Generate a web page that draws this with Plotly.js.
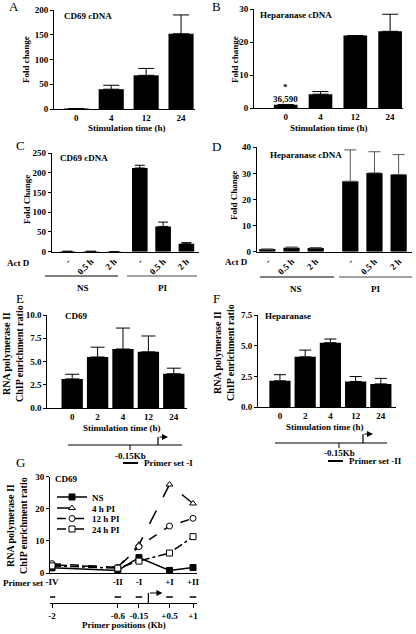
<!DOCTYPE html>
<html><head><meta charset="utf-8">
<script src="https://cdn.plot.ly/plotly-3.0.1.min.js"></script>
<style>html,body{margin:0;padding:0;background:#fff}#chart{width:416px;height:634px}</style>
</head><body><div id="chart"></div>
<script>
// ---------- DATA ----------
const timeCatsAB = ["0", "4", "12", "24"];
const cd69Fold = [1, 40, 68, 152];
const cd69FoldSem = [0, 8, 14, 38];
const hepFold = [1, 4.2, 22, 23.3];
const hepFoldSem = [0, 0.8, 0, 5.2];
const hepFold0Label = "36,590";

const groupsCD = ["NS", "PI"];
const actDConds = ["-", "0.5 h", "2 h"];
const cd69ActD = [1, 1, 0.5, 212, 64, 20];
const cd69ActDSem = [0, 0, 0, 7, 11, 3];
const hepActD = [1.0, 1.5, 1.4, 27, 30.2, 29.6];
const hepActDSem = [0, 0.3, 0.2, 12, 8.1, 7.6];

const timeCatsEF = ["0", "2", "4", "12", "24"];
const cd69Pol = [3.15, 5.5, 6.35, 6.05, 3.7];
const cd69PolSem = [0.5, 1.05, 2.25, 1.7, 0.6];
const hepPol = [2.15, 4.1, 5.25, 2.1, 1.9];
const hepPolSem = [0.5, 0.55, 0.3, 0.4, 0.45];

const primerSets = ["-IV", "-II", "-I", "+I", "+II"];
const primerKb = [-2, -0.6, -0.15, 0.5, 1];
const primerKbLabels = ["-2", "-0.6", "-0.15", "+0.5", "+1"];
const seriesG = ["NS", "4 h PI", "12 h PI", "24 h PI"];
const gNS = [1.6, 0.8, 4.8, 0.8, 1.7];
const g4h = [2.5, 1.8, 8.8, 27.5, 21.6];
const g12h = [2.9, 1.7, 8.2, 14.6, 17.0];
const g24h = [2.2, 1.5, 3.7, 6.2, 11.3];

// ---------- HELPERS ----------
const W = 416, H = 634;
const px = x => x / W;
const py = y => 1 - y / H;
const FAM = "Liberation Serif, Times New Roman, serif";
const bold = (s) => ({family: FAM, size: s, color: "#000", weight: "bold"});
const zeros = a => a.map(() => 0);

function groupedPositions(gap) {
  const pos = [];
  groupsCD.forEach((g, gi) => actDConds.forEach((c, ci) => pos.push(gi * (actDConds.length + gap) + ci)));
  return pos;
}
const condLabels = groupsCD.flatMap(() => actDConds);

function yAx(top, bot, range, dtick, anchor, fmt) {
  return {domain: [py(bot), py(top)], range: range, dtick: dtick, tick0: 0, tickformat: fmt || "",
    ticks: "outside", ticklen: 3, tickwidth: 1, tickcolor: "#000", showline: true, linewidth: 1,
    linecolor: "#000", showgrid: false, zeroline: false, anchor: anchor, tickfont: bold(9), fixedrange: true};
}
function xAx(left, right, range, anchor, extra) {
  return Object.assign({domain: [px(left), px(right)], range: range, showline: true, linewidth: 1,
    linecolor: "#000", showgrid: false, zeroline: false, ticks: "", anchor: anchor, tickfont: bold(9),
    fixedrange: true}, extra || {});
}
function barTrace(x, y, sem, xa, ya, width, cap, ecol) {
  return {type: "bar", x: x, y: y, xaxis: xa, yaxis: ya, width: width, showlegend: false,
    marker: {color: "#000", line: {width: 0}},
    error_y: {type: "data", symmetric: false, array: sem, arrayminus: zeros(sem),
      color: ecol || "#000", thickness: 1, width: cap}};
}

const posC = groupedPositions(0.1);
const posD = groupedPositions(0.43);

// ---------- TRACES ----------
const traces = [
  barTrace(timeCatsAB, cd69Fold, cd69FoldSem, "x", "y", 0.72, 8),
  barTrace(timeCatsAB, hepFold, hepFoldSem, "x2", "y2", 0.68, 8),
  barTrace(posC, cd69ActD, cd69ActDSem, "x3", "y3", 0.67, 5),
  barTrace(posD, hepActD, hepActDSem, "x4", "y4", 0.67, 6, "#555"),
  barTrace(timeCatsEF, cd69Pol, cd69PolSem, "x5", "y5", 0.84, 7),
  barTrace(timeCatsEF, hepPol, hepPolSem, "x6", "y6", 0.84, 6)
];
const gStyles = [
  {y: gNS, dash: "solid", symbol: "square", fill: "#000"},
  {y: g4h, dash: "longdash", symbol: "triangle-up", fill: "#fff"},
  {y: g12h, dash: "dash", symbol: "circle", fill: "#fff"},
  {y: g24h, dash: "dashdot", symbol: "square", fill: "#fff"}
];
const legendIds = ["legend", "legend2", "legend3", "legend4"];
gStyles.forEach((s, i) => traces.push({
  type: "scatter", mode: "lines+markers", name: seriesG[i], x: primerKb, y: s.y, legend: legendIds[i],
  xaxis: "x7", yaxis: "y7", line: {color: "#000", width: 1.5, dash: s.dash},
  marker: {symbol: s.symbol, size: 6, color: s.fill, line: {color: "#000", width: 1}}
}));
// carrier for the primer-position axis
traces.push({type: "scatter", mode: "markers", x: primerKb, y: primerKb.map(() => null),
  xaxis: "x8", yaxis: "y7", showlegend: false, hoverinfo: "skip"});

// ---------- ANNOTATIONS ----------
const ann = [];
function txt(x, y, text, opts) {
  ann.push(Object.assign({xref: "paper", yref: "paper", x: px(x), y: py(y), text: text, showarrow: false,
    xanchor: "center", yanchor: "middle", font: bold(9)}, opts || {}));
}
[["A", 14, 6], ["B", 216, 6], ["C", 20, 145], ["D", 216, 146], ["E", 20, 298], ["F", 216, 298], ["G", 20, 462]]
  .forEach(l => txt(l[1], l[2], l[0], {font: {family: FAM, size: 13, color: "#000"}}));

txt(62, 16, "CD69 cDNA", {xanchor: "left"});
txt(258, 15, "Heparanase cDNA", {xanchor: "left"});
txt(58, 158, "CD69 cDNA", {xanchor: "left"});
txt(268, 155, "Heparanase cDNA", {xanchor: "left"});
txt(63, 316, "CD69", {xanchor: "left"});
txt(263, 316, "Heparanase", {xanchor: "left"});
txt(53, 479, "CD69", {xanchor: "left"});

ann.push({xref: "x2", yref: "paper", x: timeCatsAB[0], y: py(80), text: "*", showarrow: false, font: bold(9)});
ann.push({xref: "x2", yref: "paper", x: timeCatsAB[0], y: py(92), text: hepFold0Label, showarrow: false, font: bold(9)});

txt(127, 128, "Stimulation time (h)");
txt(329, 128, "Stimulation time (h)");
txt(122, 428, "Stimulation time (h)");
txt(325, 427, "Stimulation time (h)");

txt(26, 60, "Fold change", {textangle: -90});
txt(235, 60, "Fold change", {textangle: -90});
txt(27, 200, "Fold Change", {textangle: -90});
txt(234, 196, "Fold Change", {textangle: -90});
txt(13, 354, "RNA polymerase II<br>ChIP enrichment ratio", {textangle: -90, font: bold(10)});
txt(224, 353, "RNA polymerase II<br>ChIP enrichment ratio", {textangle: -90, font: bold(10)});
txt(17, 526, "RNA polymerase II<br>ChIP enrichment ratio", {textangle: -90, font: bold(10)});

txt(18, 263, "Act D");
txt(236, 262, "Act D");
txt(83, 288, groupsCD[0]);
txt(162, 288, groupsCD[1]);
txt(296, 289, groupsCD[0]);
txt(375, 289, groupsCD[1]);

// promoter schematics E / F
txt(130, 456, "-0.15Kb");
txt(142, 463, "Primer set -I", {xanchor: "left"});
txt(339, 453, "-0.15Kb");
txt(347, 461, "Primer set -II", {xanchor: "left"});
[[168, 437], [373, 434]].forEach(a => ann.push({xref: "paper", yref: "paper", x: px(a[0]), y: py(a[1]),
  ax: -10, ay: 0, axref: "pixel", ayref: "pixel", showarrow: true, arrowhead: 2, arrowsize: 1,
  arrowwidth: 1.2, arrowcolor: "#000", text: ""}));

// G extras
txt(1, 583, "Primer set", {xanchor: "left"});
txt(124, 625, "Primer positions (Kb)");
ann.push({xref: "x7", yref: "paper", x: 0.35, y: py(593), ax: -14, ay: 0, axref: "pixel", ayref: "pixel",
  showarrow: true, arrowhead: 2, arrowsize: 1, arrowwidth: 1.2, arrowcolor: "#000", text: ""});

// ---------- SHAPES ----------
const shapes = [];
function seg(x0, y0, x1, y1, w, col) {
  shapes.push({type: "line", xref: "paper", yref: "paper", x0: px(x0), y0: py(y0), x1: px(x1), y1: py(y1),
    line: {color: col || "#000", width: w || 1}});
}
seg(45, 276, 118, 276, 1);
seg(127, 276, 197, 276, 1, "#444");
seg(260, 277, 334, 277, 1);
seg(339, 277, 412, 277, 1, "#444");
// E schematic
seg(68, 445, 182, 445, 1);
seg(130, 445, 130, 450, 1);
seg(158, 445, 158, 437, 1.2);
seg(123, 463, 138, 463, 2);
// F schematic
seg(275, 443, 387, 443, 1);
seg(339, 443, 339, 448, 1);
seg(363, 443, 363, 434, 1.2);
seg(328, 461, 343, 461, 2);
// G primer dashes and TSS
primerKb.forEach(k => shapes.push({type: "line", xref: "x7", yref: "paper", x0: k - 0.07, x1: k + 0.07,
  y0: py(597), y1: py(597), line: {color: "#000", width: 1.5}}));
shapes.push({type: "line", xref: "x7", yref: "paper", x0: 0.05, x1: 0.05, y0: py(603), y1: py(593),
  line: {color: "#000", width: 1.2}});

// ---------- LAYOUT ----------
const gRange = [-2.043, 1.085];
const legendYs = [497, 508, 518.5, 529];
const layout = {
  width: W, height: H, margin: {l: 0, r: 0, t: 0, b: 0}, paper_bgcolor: "#fff", plot_bgcolor: "#fff",
  hovermode: false, showlegend: true, barmode: "group",
  font: {family: FAM, color: "#000"},
  xaxis: xAx(54, 195, [-0.64, 3.4], "y", {type: "category"}),
  yaxis: yAx(10, 109, [0, 200], 50, "x"),
  xaxis2: xAx(254, 403, [-0.91, 3.37], "y2", {type: "category"}),
  yaxis2: yAx(9.3, 108, [0, 30], 10, "x2"),
  xaxis3: xAx(51.7, 199, [-0.68, 5.64], "y3", {tickvals: posC, ticktext: condLabels, tickangle: -45}),
  yaxis3: yAx(153, 251.7, [0, 250], 50, "x3"),
  xaxis4: xAx(256.7, 411.7, [-0.44, 5.97], "y4", {tickvals: posD, ticktext: condLabels, tickangle: -45}),
  yaxis4: yAx(147.3, 251.7, [0, 40], 10, "x4"),
  xaxis5: xAx(47.3, 187, [-0.98, 4.52], "y5", {type: "category"}),
  yaxis5: yAx(315, 408.3, [0, 10], 2.5, "x5", ".1f"),
  xaxis6: xAx(258, 396, [-0.87, 4.6], "y6", {type: "category"}),
  yaxis6: yAx(315, 407.3, [0, 7.5], 2.5, "x6", ".1f"),
  xaxis7: xAx(50, 197, gRange, "y7", {tickvals: primerKb, ticktext: primerSets}),
  yaxis7: yAx(476.5, 573, [0, 30], 10, "x7"),
  xaxis8: xAx(50, 197, gRange, "free", {overlaying: "x7", position: py(603), side: "bottom",
    tickvals: primerKb, ticktext: primerKbLabels, ticks: "outside", ticklen: 4, tickwidth: 1,
    tickcolor: "#000", linewidth: 1.2}),
  annotations: ann,
  shapes: shapes
};
legendIds.forEach((id, i) => {
  layout[id] = {x: px(52), y: py(legendYs[i]), xanchor: "left", yanchor: "middle", bgcolor: "rgba(0,0,0,0)",
    borderwidth: 0, font: bold(9), itemwidth: 30, tracegroupgap: 0};
});

Plotly.newPlot("chart", traces, layout, {displayModeBar: false, staticPlot: true});
</script>
</body></html>
